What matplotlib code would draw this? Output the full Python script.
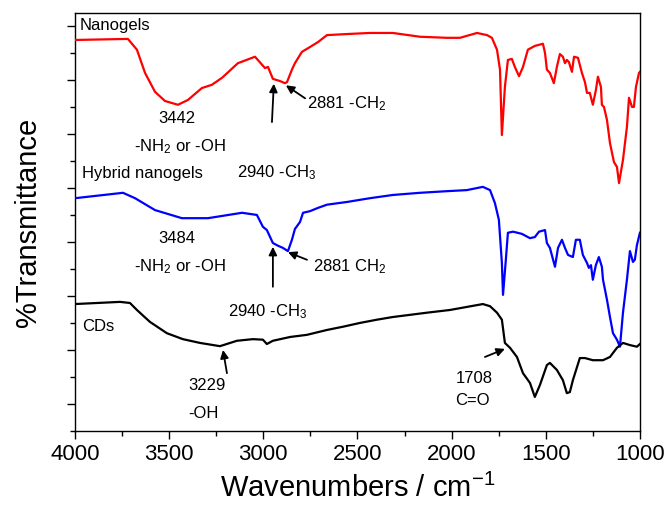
"""FTIR spectra of nanogels, hybrid nanogels and CDs (stacked, arbitrary offset)."""
import matplotlib
matplotlib.use("Agg")
import matplotlib.pyplot as plt
from matplotlib.ticker import MultipleLocator

plt.rcParams["font.family"] = ["Liberation Sans", "DejaVu Sans"]
plt.rcParams["mathtext.fontset"] = "custom"
plt.rcParams["mathtext.rm"] = "Liberation Sans"
plt.rcParams["mathtext.it"] = "Liberation Sans"

# wavenumber (cm-1) / transmittance (a.u., offset)
NANO_WN = [4000, 3719, 3671, 3628, 3575, 3522, 3453, 3400, 3326, 3273, 3219,
           3135, 3044, 2991, 2975, 2949, 2912, 2885, 2874, 2848, 2832, 2795,
           2752, 2710, 2662, 2556, 2434, 2312, 2168, 2025, 1956, 1865, 1812,
           1786, 1759, 1743, 1733, 1717, 1701, 1680, 1664, 1642, 1621, 1595,
           1558, 1515, 1504, 1494, 1478, 1457, 1441, 1425, 1409, 1398, 1388,
           1377, 1361, 1350, 1329, 1308, 1292, 1281, 1266, 1250, 1234, 1223,
           1207, 1202, 1191, 1175, 1159, 1138, 1122, 1111, 1090, 1069, 1058,
           1042, 1032, 1021, 1005, 1000]
NANO_T = [72.4, 72.6, 70.6, 66.3, 62.8, 61.1, 60.4, 61.3, 63.5, 64.1, 65.4,
          68.1, 69.3, 67.2, 67.4, 65.2, 64.8, 64.4, 64.6, 66.9, 68.1, 70.2,
          71.1, 72.0, 73.3, 73.5, 73.7, 73.7, 73.0, 72.8, 72.8, 73.7, 73.3,
          72.8, 70.6, 66.9, 54.8, 63.7, 68.7, 68.9, 67.4, 65.7, 67.4, 70.6,
          71.3, 71.7, 70.0, 66.9, 66.3, 64.4, 67.4, 69.8, 69.3, 68.1, 68.7,
          68.3, 66.5, 69.3, 69.1, 66.3, 64.6, 62.6, 62.6, 60.4, 63.1, 65.6,
          63.7, 60.4, 60.0, 57.6, 53.3, 49.8, 48.9, 45.9, 50.2, 56.3, 61.7,
          60.0, 60.0, 63.7, 66.3, 66.5]

HYB_WN = [4000, 3745, 3681, 3575, 3432, 3294, 3113, 3034, 3002, 2981, 2949,
          2922, 2896, 2869, 2848, 2832, 2805, 2789, 2752, 2710, 2662, 2556,
          2434, 2312, 2168, 2025, 1919, 1834, 1796, 1770, 1749, 1733, 1727,
          1712, 1701, 1674, 1627, 1584, 1558, 1536, 1504, 1494, 1478, 1451,
          1435, 1414, 1398, 1382, 1356, 1340, 1319, 1303, 1281, 1271, 1260,
          1250, 1234, 1218, 1202, 1196, 1175, 1159, 1143, 1122, 1106, 1090,
          1069, 1053, 1037, 1027, 1016, 1000]
HYB_T = [43.1, 44.1, 43.1, 40.9, 39.4, 39.4, 40.4, 40.0, 37.8, 37.2, 34.8,
         34.3, 33.9, 33.3, 35.4, 37.4, 38.7, 40.4, 40.7, 41.3, 41.9, 42.4,
         43.1, 43.7, 44.1, 44.4, 44.6, 45.2, 44.6, 42.2, 39.1, 31.1, 25.2,
         31.7, 36.7, 36.9, 36.5, 35.7, 35.9, 36.9, 37.2, 34.8, 33.9, 30.4,
         33.9, 35.4, 33.9, 32.6, 32.2, 35.4, 35.4, 32.6, 31.1, 30.2, 30.7,
         28.0, 30.7, 32.2, 30.4, 28.0, 24.3, 21.1, 18.1, 16.9, 15.6, 21.9,
         28.0, 33.3, 31.3, 31.7, 34.4, 36.7]

CD_WN = [4000, 3761, 3708, 3671, 3602, 3512, 3427, 3336, 3230, 3140, 3055,
         3002, 2981, 2949, 2858, 2768, 2662, 2577, 2487, 2397, 2312, 2221,
         2131, 2009, 1834, 1796, 1759, 1733, 1717, 1690, 1653, 1621, 1584,
         1558, 1531, 1494, 1478, 1441, 1409, 1388, 1372, 1356, 1319, 1292,
         1250, 1196, 1159, 1122, 1090, 1053, 1016, 1000]
CD_T = [23.5, 23.9, 23.7, 22.4, 20.2, 18.1, 17.0, 16.3, 15.7, 16.7, 17.0,
        16.9, 16.1, 16.7, 17.4, 17.8, 18.7, 19.3, 20.0, 20.6, 21.1, 21.5,
        21.9, 22.4, 23.5, 23.1, 21.9, 20.6, 16.3, 15.4, 13.7, 10.7, 8.9,
        6.3, 8.5, 12.2, 12.6, 11.3, 9.4, 7.0, 7.2, 9.4, 13.5, 13.5,
        13.1, 13.1, 13.7, 15.4, 16.3, 15.9, 15.6, 16.1]

SERIES = [
    (NANO_WN, NANO_T, "#ff0000"),
    (HYB_WN, HYB_T, "#0000ff"),
    (CD_WN, CD_T, "black"),
]

# (text, wavenumber, T, ha)
LABELS = [
    ("Nanogels", 3975, 75.0, "left"),
    ("3442", 3458, 57.8, "center"),
    ("-NH$_2$ or -OH", 3442, 52.6, "center"),
    ("Hybrid nanogels", 3963, 47.6, "left"),
    ("2940 -CH$_3$", 3140, 47.8, "left"),
    ("2881 -CH$_2$", 2768, 60.7, "left"),
    ("3484", 3458, 35.6, "center"),
    ("-NH$_2$ or -OH", 3442, 30.4, "center"),
    ("2881 CH$_2$", 2736, 30.4, "left"),
    ("2940 -CH$_3$", 3188, 22.0, "left"),
    ("CDs", 3963, 19.4, "left"),
    ("3229", 3299, 8.5, "center"),
    ("-OH", 3320, 3.3, "center"),
    ("1708", 1881, 9.8, "center"),
    ("C=O", 1887, 5.7, "center"),
]

# (head wn, head T, tail wn, tail T)
ARROWS = [
    (2944, 64.3, 2954, 57.2),
    (2880, 64.0, 2778, 61.6),
    (2949, 34.1, 2949, 26.7),
    (2869, 33.1, 2768, 31.7),
    (3214, 15.0, 3193, 10.7),
    (1717, 15.2, 1823, 13.7),
]


def main() -> None:
    fig = plt.figure(figsize=(6.67, 5.07), dpi=100)
    ax = fig.add_axes([0.1124, 0.15, 0.847, 0.8244])

    for wn, t, color in SERIES:
        ax.plot(wn, t, color=color, lw=1.6, zorder=3)

    for txt, x, y, ha in LABELS:
        ax.text(x, y, txt, ha=ha, va="center", fontsize=12)

    for hx, hy, tx, ty in ARROWS:
        ax.annotate("", xy=(hx, hy), xytext=(tx, ty),
                    arrowprops=dict(arrowstyle="-|>", color="black", lw=1.3,
                                    mutation_scale=12, shrinkA=0, shrinkB=0))

    ax.set_xlim(4000, 1000)
    ax.set_ylim(0, 77.4)
    ax.xaxis.set_major_locator(MultipleLocator(500))
    ax.xaxis.set_minor_locator(MultipleLocator(250))
    ax.set_yticks([5 + 10 * k for k in range(8)])
    ax.yaxis.set_minor_locator(MultipleLocator(10))
    ax.set_yticklabels([])
    ax.tick_params(axis="both", which="major", direction="out", length=6,
                   width=1.0, labelsize=16, top=False, right=False)
    ax.tick_params(axis="both", which="minor", direction="out", length=3.5,
                   width=1.0, top=False, right=False)
    for sp in ax.spines.values():
        sp.set_linewidth(1.0)

    ax.set_xlabel("Wavenumbers / cm$^{-1}$", fontsize=21, labelpad=6)
    ax.set_ylabel("%Transmittance", fontsize=21, labelpad=14)

    fig.savefig("out.png", dpi=100)
    plt.close(fig)


if __name__ == "__main__":
    main()
